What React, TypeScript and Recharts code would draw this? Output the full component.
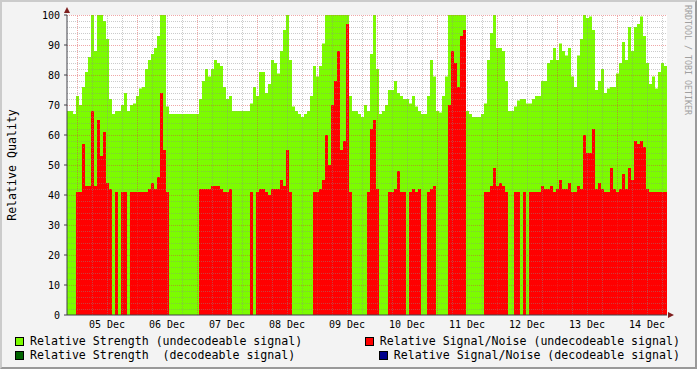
import React from 'react';
import { ComposedChart, Area, XAxis, YAxis, CartesianGrid, ReferenceLine } from 'recharts';

// one value per 1.2 h, starting 04 Dec 20:00
const dayLabels = ['05 Dec', '06 Dec', '07 Dec', '08 Dec', '09 Dec', '10 Dec', '11 Dec', '12 Dec', '13 Dec', '14 Dec'];
const yTicks = [0, 10, 20, 30, 40, 50, 60, 70, 80, 90, 100];

const strength = [
  68, 68, 67, 73, 70, 76, 81, 86, 100, 88,
  100, 100, 98, 92, 72, 67, 68, 68, 70, 74,
  68, 70, 70.5, 73, 75.5, 76, 82, 85, 87, 89,
  93, 100, 100, 69.5, 67, 67, 67, 67, 67, 67,
  67, 67, 67, 67, 72, 78, 82, 79.5, 82, 85,
  84, 83, 76, 72, 73, 68, 68, 68, 68, 68,
  68, 70.5, 76, 73, 81, 81, 74, 77, 85, 84,
  80.5, 88, 95, 100, 85, 69.5, 68, 67, 66, 67,
  68, 73, 83, 79.5, 83, 90.5, 100, 100, 100, 100,
  100, 100, 100, 100, 73, 68, 68, 67, 66, 70,
  68, 87, 100, 82, 67, 68, 70, 75, 75, 78,
  74, 73, 72, 72, 70.5, 73, 69.5, 68, 67, 67,
  73, 85, 79.5, 68, 67.5, 73, 79.5, 100, 100, 100,
  100, 100, 100, 68, 67, 66, 66, 66, 67, 70.5,
  85, 94, 100, 89, 89, 88, 78, 68, 68, 69.5,
  71.5, 72, 72, 70.5, 70.5, 72, 73, 73, 78, 78,
  84, 85, 89, 85, 90.5, 88, 86.5, 89, 79.5, 76,
  86.5, 92, 100, 99, 99.5, 95, 75, 78, 82, 74,
  75.5, 76, 76, 80.5, 84, 91, 85, 96, 88, 96,
  97, 99.5, 93, 84, 77, 79.5, 75.5, 81, 84, 83,
];

const snr = [
  0, 0, 0, 41, 41, 57, 43, 43, 68, 43,
  65, 53, 61, 44, 42, 0, 41, 0, 41, 41,
  0, 41, 41, 41, 41, 41, 41, 42, 44, 42,
  46, 74, 55, 41, 0, 0, 0, 0, 0, 0,
  0, 0, 0, 0, 42, 42, 42, 42, 43, 43,
  43, 42, 41, 41, 42, 0, 0, 0, 0, 0,
  0, 41, 0, 41, 42, 42, 41, 40, 42, 42,
  42, 45, 43, 55, 41, 0, 0, 0, 0, 0,
  0, 0, 41, 41, 42, 45, 60, 50, 70, 78,
  88, 55, 58, 97, 41, 0, 0, 0, 0, 0,
  41, 62, 65, 42, 0, 0, 0, 41, 41, 42,
  48, 41, 41, 0, 41, 42, 41, 42, 0, 0,
  41, 42, 43, 0, 0, 0, 0, 70, 88, 84,
  76, 93, 95, 0, 0, 0, 0, 0, 0, 41,
  41, 43, 49, 43, 44, 43, 41, 0, 0, 41,
  41, 0, 41, 0, 41, 41, 41, 41, 43, 42,
  42, 43, 41, 42, 45, 42, 42, 44, 41, 41,
  43, 42, 60, 54, 54, 62, 42, 44, 42, 41,
  41, 49, 42, 41, 42, 47, 42, 49, 45, 58,
  57, 58, 56, 42, 41, 41, 41, 41, 41, 41,
];

const STEP = 1.2;
const FIRST_MIDNIGHT = 4;
const SPAN = strength.length * STEP;

const data = strength.map((s, i) => ({ h: i * STEP, strength: s, snr: snr[i] }));
// closing point so the last step gets its width
data.push({ h: SPAN, strength: strength[strength.length - 1], snr: snr[snr.length - 1] });

const labelTicks = dayLabels.map((_, i) => FIRST_MIDNIGHT + 12 + 24 * i);
const majorX = dayLabels.map((_, i) => FIRST_MIDNIGHT + 24 * i);
const minorX: number[] = [];
for (let h = FIRST_MIDNIGHT + 6; h < SPAN; h += 6) if ((h - FIRST_MIDNIGHT) % 24 !== 0) minorX.push(h);
const minorY: number[] = [];
for (let v = 2; v < 100; v += 2) if (v % 10 !== 0) minorY.push(v);
const majorY = yTicks.filter((v) => v > 0);

const mono = '"DejaVu Sans Mono", monospace';
const GREEN = '#7CFC00';
const RED = '#FF0000';
const DKGREEN = '#006400';
const BLUE = '#00008B';
const AXIS = '#404048';
const MINOR = 'rgba(140,140,140,0.45)';
const MAJOR = 'rgba(220,60,60,0.45)';

function Box({ color }: { color: string }) {
  return (
    <span
      style={{
        display: 'inline-block',
        width: 7,
        height: 7,
        background: color,
        border: '1px solid #000',
        marginRight: 6,
        verticalAlign: -1,
      }}
    />
  );
}

function LegendBlock() {
  const row: React.CSSProperties = {
    position: 'absolute',
    fontFamily: mono,
    fontSize: 11.6,
    lineHeight: '14px',
    whiteSpace: 'pre',
    color: '#000',
  };
  return (
    <>
      <div style={{ ...row, left: 15, top: 334 }}>
        <Box color={GREEN} />Relative Strength (undecodeable signal)
      </div>
      <div style={{ ...row, left: 15, top: 348 }}>
        <Box color={DKGREEN} />Relative Strength  (decodeable signal)
      </div>
      <div style={{ ...row, right: 17, top: 334 }}>
        <Box color={RED} />Relative Signal/Noise (undecodeable signal)
      </div>
      <div style={{ ...row, right: 17, top: 348 }}>
        <Box color={BLUE} />Relative Signal/Noise (decodeable signal)
      </div>
    </>
  );
}

export default function App() {
  return (
    <div
      style={{
        position: 'absolute',
        left: 0,
        top: 0,
        width: 697,
        height: 369,
        boxSizing: 'border-box',
        background: '#F3F3F3',
        borderTop: '2px solid #CBCBCB',
        borderLeft: '2px solid #CBCBCB',
        borderBottom: '2px solid #999',
        borderRight: '2px solid #999',
      }}
    >
      <div style={{ position: 'absolute', left: -2, top: -2 }}>
        <ComposedChart width={697} height={369} data={data} margin={{ top: 15, right: 30, bottom: 34, left: 27 }}>
          <CartesianGrid fill="#FFFFFF" horizontal={false} vertical={false} />
          <XAxis
            type="number"
            dataKey="h"
            domain={[0, SPAN]}
            ticks={labelTicks}
            tickFormatter={(v: number) => dayLabels[Math.round((v - FIRST_MIDNIGHT - 12) / 24)]}
            tick={{ fill: '#000', fontSize: 10, fontFamily: mono }}
            tickLine={false}
            tickSize={0}
            tickMargin={6}
            height={20}
            axisLine={{ stroke: AXIS }}
            allowDataOverflow
          />
          <YAxis
            type="number"
            domain={[0, 100]}
            ticks={yTicks}
            tick={{ fill: '#000', fontSize: 10, fontFamily: mono }}
            tickLine={{ stroke: AXIS }}
            tickSize={3}
            tickMargin={4}
            width={40}
            axisLine={{ stroke: AXIS }}
            allowDataOverflow
          />
          <Area
            type="stepAfter"
            dataKey="strength"
            fill={GREEN}
            fillOpacity={1}
            stroke="none"
            dot={false}
            activeDot={false}
            isAnimationActive={false}
          />
          <Area
            type="stepAfter"
            dataKey="snr"
            fill={RED}
            fillOpacity={1}
            stroke="none"
            dot={false}
            activeDot={false}
            isAnimationActive={false}
          />
          {minorY.map((v) => (
            <ReferenceLine key={'my' + v} y={v} stroke={MINOR} strokeDasharray="1 1" shapeRendering="crispEdges" />
          ))}
          {minorX.map((v) => (
            <ReferenceLine key={'mx' + v} x={v} stroke={MINOR} strokeDasharray="1 1" shapeRendering="crispEdges" />
          ))}
          {majorY.map((v) => (
            <ReferenceLine key={'My' + v} y={v} stroke={MAJOR} strokeDasharray="1 1" shapeRendering="crispEdges" />
          ))}
          {majorX.map((v) => (
            <ReferenceLine key={'Mx' + v} x={v} stroke={MAJOR} strokeDasharray="1 1" shapeRendering="crispEdges" />
          ))}
        </ComposedChart>
        <svg width={697} height={369} style={{ position: 'absolute', left: 0, top: 0, pointerEvents: 'none' }}>
          <polygon points="64,13 70,13 67,7" fill="#7F1F1F" />
          <polygon points="668,312 668,318 674,315" fill="#7F1F1F" />
          <text
            transform="translate(12,165) rotate(-90)"
            textAnchor="middle"
            dominantBaseline="central"
            fontFamily={mono}
            fontSize={11.6}
            fill="#000"
          >
            Relative Quality
          </text>
          <text
            transform="translate(688,5) rotate(90)"
            textAnchor="start"
            dominantBaseline="central"
            fontFamily={mono}
            fontSize={8.3}
            fill="#A0A0A0"
          >
            RRDTOOL / TOBI OETIKER
          </text>
        </svg>
        <LegendBlock />
      </div>
    </div>
  );
}
